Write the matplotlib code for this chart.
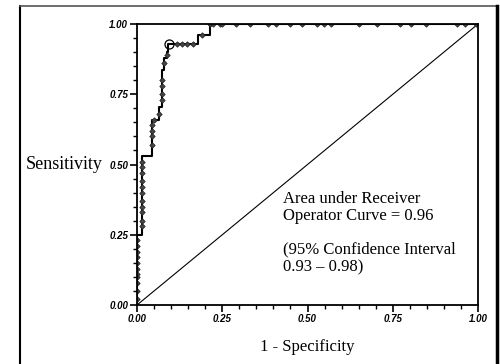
import numpy as np
import matplotlib.pyplot as plt
from matplotlib.lines import Line2D
from matplotlib.ticker import MultipleLocator, FormatStrFormatter

# ROC step curve corners (1 - specificity, sensitivity)
roc_fpr = [0.0, 0.0, 0.014, 0.014, 0.043, 0.043, 0.064, 0.064, 0.072, 0.072,
           0.080, 0.080, 0.087, 0.087, 0.092, 0.092, 0.180, 0.180, 0.214, 0.214, 1.0]
roc_tpr = [0.0, 0.25, 0.25, 0.53, 0.53, 0.658, 0.658, 0.705, 0.705, 0.836,
           0.836, 0.879, 0.879, 0.90, 0.90, 0.929, 0.929, 0.96, 0.96, 1.0, 1.0]

# small marks along the curve
mark_fpr = [0.0] * 11 + [0.014] * 11 + [0.043] * 4 + [0.05, 0.064, 0.072, 0.072, 0.072,
            0.072, 0.080, 0.087, 0.116, 0.131, 0.148, 0.165, 0.19,
            0.214, 0.224, 0.243, 0.248, 0.290, 0.331, 0.383, 0.408, 0.449, 0.483,
            0.527, 0.548, 0.568, 0.652, 0.703, 0.770, 0.803, 0.847, 0.938, 0.962, 0.994]
mark_tpr = [0.02, 0.05, 0.08, 0.10, 0.11, 0.13, 0.15, 0.17, 0.19, 0.21, 0.23,
            0.28, 0.30, 0.33, 0.35, 0.37, 0.40, 0.42, 0.44, 0.47, 0.49, 0.51,
            0.57, 0.60, 0.62, 0.64, 0.658, 0.68, 0.73, 0.75, 0.78, 0.80, 0.86, 0.89,
            0.929, 0.929, 0.929, 0.929, 0.96] + [1.0] * 21

# optimal cut-off point
opt_fpr, opt_tpr = 0.094, 0.929

fig = plt.figure(figsize=(5, 3.64), dpi=100)
ax = fig.add_axes([0.274, 0.162, 0.682, 0.772])

ax.plot([0, 1], [0, 1], color='black', lw=0.8)
ax.plot(roc_fpr, roc_tpr, color='black', lw=1.5)
ax.plot(mark_fpr, mark_tpr, ls='none', marker='D', ms=2.8, mfc='#444444', mec='#222222', mew=0.5)
ax.plot(opt_fpr, opt_tpr, ls='none', marker='o', ms=6.5, mfc='none', mec='black', mew=0.9)

ax.set_xlim(0, 1)
ax.set_ylim(0, 1)
ax.xaxis.set_major_locator(MultipleLocator(0.25))
ax.yaxis.set_major_locator(MultipleLocator(0.25))
ax.xaxis.set_minor_locator(MultipleLocator(0.05))
ax.yaxis.set_minor_locator(MultipleLocator(0.05))
ax.xaxis.set_major_formatter(FormatStrFormatter('%.2f'))
ax.yaxis.set_major_formatter(FormatStrFormatter('%.2f'))
ax.tick_params(which='major', length=5, width=1.2, pad=1.5)
ax.tick_params(which='minor', length=3, width=1.0)
for lab in ax.get_xticklabels() + ax.get_yticklabels():
    lab.set_fontfamily('Liberation Sans')
    lab.set_fontsize(7)
    lab.set_fontweight('bold')
    lab.set_fontstyle('italic')
for sp in ax.spines.values():
    sp.set_linewidth(1.3)

serif = 'Liberation Serif'
ax.set_ylabel('Sensitivity', rotation=0, ha='right', va='center', fontsize=13, family=serif)
ax.yaxis.set_label_coords(-0.1, 0.5)
ax.set_xlabel('1 - Specificity', va='center', fontsize=12, family=serif)
ax.xaxis.set_label_coords(0.5, -0.15)

ax.text(0.428, 0.347, 'Area under Receiver\nOperator Curve = 0.96', ha='left', va='center',
        fontsize=12, family=serif, linespacing=1.15)
ax.text(0.428, 0.167, '(95% Confidence Interval\n0.93 \u2013 0.98)', ha='left', va='center',
        fontsize=12, family=serif, linespacing=1.15)

# outer frame around the figure
fig.add_artist(Line2D([0.04, 0.04], [-0.1, 0.984], color='black', lw=1.5))
fig.add_artist(Line2D([0.04, 0.995], [0.984, 0.984], color='#555555', lw=1.2))
fig.add_artist(Line2D([0.994, 0.994], [-0.1, 0.984], color='black', lw=2.5))

fig.savefig('out.png', dpi=100)
